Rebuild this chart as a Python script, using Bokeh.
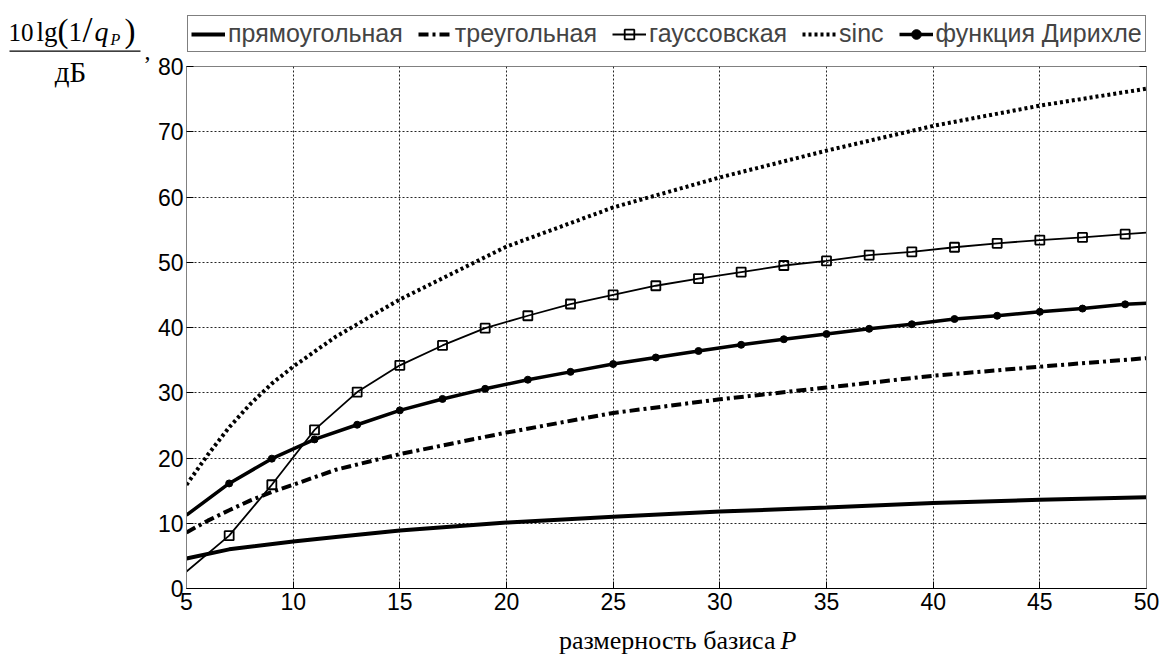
from bokeh.plotting import figure
from bokeh.layouts import row, column
from bokeh.models import (Legend, LegendItem, Label, BoxAnnotation, FixedTicker,
                          LinearAxis, Range1d, CustomJSTickFormatter)
from bokeh.embed import file_html
from bokeh.resources import INLINE

# ---------------- data ----------------
x_ticks = [5, 10, 15, 20, 25, 30, 35, 40, 45, 50]
y_ticks = [0, 10, 20, 30, 40, 50, 60, 70, 80]

P_rect = [5, 7, 10, 12, 15, 20, 25, 30, 35, 40, 45, 50]
rect = [4.6, 6.0, 7.2, 7.9, 8.9, 10.1, 11.0, 11.8, 12.4, 13.1, 13.6, 14.0]

P_tri = [5, 6, 7, 8, 9, 10, 12, 15, 20, 25, 30, 35, 40, 45, 50]
tri = [8.6, 10.4, 12.0, 13.5, 14.8, 15.9, 18.2, 20.6, 23.9, 26.9, 29.0, 30.8, 32.6, 34.0, 35.3]

P_sinc = [5, 6, 7, 8, 9, 10, 12, 15, 20, 25, 30, 35, 40, 45, 50]
sinc = [15.9, 20.5, 24.7, 28.3, 31.4, 34.0, 38.6, 44.3, 52.4, 58.4, 63.0, 67.1, 70.9, 74.0, 76.6]

P_odd = [5, 7, 9, 11, 13, 15, 17, 19, 21, 23, 25, 27, 29, 31, 33, 35, 37, 39, 41, 43, 45, 47, 49, 50]
gauss = [2.6, 8.1, 15.9, 24.3, 30.1, 34.2, 37.25, 39.9, 41.8, 43.6, 45.0, 46.4, 47.5, 48.5,
         49.5, 50.2, 51.1, 51.6, 52.3, 52.9, 53.4, 53.8, 54.3, 54.55]
dirichlet = [11.25, 16.1, 19.9, 22.85, 25.1, 27.3, 29.05, 30.6, 32.0, 33.2, 34.4, 35.4, 36.4,
             37.35, 38.2, 39.0, 39.8, 40.5, 41.3, 41.8, 42.4, 42.9, 43.55, 43.7]

labels = ["прямоугольная", "треугольная", "гауссовская", "sinc", "функция Дирихле"]
x_title = "размерность базиса"
x_title_var = "P"

# ---------------- geometry (page px) ----------------
TOTAL_W, TOTAL_H = 1160, 656
LEFT_W = 150                      # strip holding the y title
TOP_H = 53                        # strip holding the legend
FOOT_Y = 618                      # where the x-title strip starts
FRAME_L, FRAME_R, FRAME_T, FRAME_B = 186, 1146, 66, 588
RIGHT_W = TOTAL_W - LEFT_W
MAIN_H = FOOT_Y - TOP_H
SERIF = "Liberation Serif"
SANS = "Liberation Sans"
BASE_SHIFT = 0.28                 # measured baseline offset of Label text, in em


def blank_fig(w, h, x0, x1, y0, y1):
    f = figure(width=w, height=h, output_backend="svg", toolbar_location=None,
               x_range=Range1d(x0, x1), y_range=Range1d(y1, y0),
               x_axis_location=None, y_axis_location=None,
               min_border=0, min_border_left=0, min_border_right=0,
               min_border_top=0, min_border_bottom=0,
               background_fill_color="white", border_fill_color="white")
    f.grid.visible = False
    f.outline_line_color = None
    return f


def put(f, text, x, y, size, style="normal", align="left", font=SERIF):
    px = float(size.replace("px", ""))
    f.add_layout(Label(x=x, y=y - BASE_SHIFT * px, text=text, text_font=font,
                       text_font_size=size, text_font_style=style, text_align=align,
                       text_baseline="alphabetic", text_color="black"))


# ---------------- main figure ----------------
p = figure(width=RIGHT_W, height=MAIN_H, output_backend="svg", toolbar_location=None,
           x_range=Range1d(5, 50), y_range=Range1d(0, 80),
           min_border_left=FRAME_L - LEFT_W, min_border_right=TOTAL_W - FRAME_R,
           min_border_top=FRAME_T - TOP_H, min_border_bottom=FOOT_Y - FRAME_B,
           background_fill_color="white", border_fill_color="white")
p.outline_line_color = "#808080"
p.outline_line_width = 1

for ax, tk in ((p.xaxis[0], x_ticks), (p.yaxis[0], y_ticks)):
    ax.ticker = FixedTicker(ticks=tk)
    ax.major_tick_in = 7
    ax.major_tick_out = 0
    ax.minor_tick_in = 0
    ax.minor_tick_out = 0
    ax.major_label_text_font = SANS
    ax.major_label_text_font_size = "23px"
    ax.major_label_text_color = "black"
    ax.major_tick_line_color = "black"
p.xaxis.axis_line_color = "black"
p.yaxis.axis_line_color = "#808080"
p.xaxis.major_label_standoff = 4
p.yaxis.major_label_standoff = 3

blank = CustomJSTickFormatter(code="return ''")
ra = LinearAxis(ticker=FixedTicker(ticks=y_ticks), formatter=blank,
                major_tick_in=7, major_tick_out=0, minor_tick_in=0, minor_tick_out=0,
                major_label_standoff=0, axis_line_color="#808080",
                major_tick_line_color="black")
p.add_layout(ra, "right")

for g in (p.xgrid[0], p.ygrid[0]):
    g.grid_line_color = "black"
    g.grid_line_dash = "2 2"
    g.grid_line_width = 1
    g.grid_line_alpha = 0.85
p.xgrid.ticker = FixedTicker(ticks=x_ticks)
p.ygrid.ticker = FixedTicker(ticks=y_ticks)

styles = {
    "rect": dict(line_color="black", line_width=4),
    "tri": dict(line_color="black", line_width=4, line_dash="10 4 3 4"),
    "gauss": dict(line_color="black", line_width=1.8),
    "sinc": dict(line_color="black", line_width=4, line_dash="3 3"),
    "dir": dict(line_color="black", line_width=3.5),
}
m_gauss_style = dict(marker="square", size=9, line_color="black", line_width=1.8, fill_alpha=0)
m_dir_style = dict(marker="circle", size=7, line_color="black", fill_color="black")

p.line(P_rect, rect, **styles["rect"])
p.line(P_tri, tri, **styles["tri"])
p.line(P_odd, gauss, **styles["gauss"])
p.scatter(P_odd[1:-1], gauss[1:-1], **m_gauss_style)
p.line(P_sinc, sinc, **styles["sinc"])
p.line(P_odd, dirichlet, **styles["dir"])
p.scatter(P_odd[1:-1], dirichlet[1:-1], **m_dir_style)

# ---------------- legend strip (frame is aligned with the main frame: x in page px) ----------------
top = blank_fig(RIGHT_W, TOP_H, FRAME_L, FRAME_R, 0, TOP_H)
# the same series, drawn on a range that lies outside this strip: they only feed the legend keys
top.extra_x_ranges = {"off": Range1d(5, 50)}
top.extra_y_ranges = {"off": Range1d(1000, 1080)}
kw = dict(x_range_name="off", y_range_name="off")
k_rect = top.line(P_rect, rect, **styles["rect"], **kw)
k_tri = top.line(P_tri, tri, **styles["tri"], **kw)
k_gauss = top.line(P_odd, gauss, **styles["gauss"], **kw)
k_gauss_m = top.scatter(P_odd[1:-1], gauss[1:-1], **m_gauss_style, **kw)
k_sinc = top.line(P_sinc, sinc, **styles["sinc"], **kw)
k_dir = top.line(P_odd, dirichlet, **styles["dir"], **kw)
k_dir_m = top.scatter(P_odd[1:-1], dirichlet[1:-1], **m_dir_style, **kw)

legend = Legend(items=[
    LegendItem(label=labels[0], renderers=[k_rect]),
    LegendItem(label=labels[1], renderers=[k_tri]),
    LegendItem(label=labels[2], renderers=[k_gauss, k_gauss_m]),
    LegendItem(label=labels[3], renderers=[k_sinc]),
    LegendItem(label=labels[4], renderers=[k_dir, k_dir_m]),
], orientation="horizontal", location=(1, 1),
    label_text_font=SANS, label_text_font_size="25px",
    glyph_width=34, glyph_height=24, label_height=24, label_standoff=3,
    spacing=15, padding=3, margin=0,
    border_line_color="black", border_line_width=1,
    background_fill_color="white", background_fill_alpha=1)
top.add_layout(legend)

# ---------------- y title strip ----------------
yl = blank_fig(LEFT_W, TOTAL_H, 0, LEFT_W, 0, TOTAL_H)
put(yl, "10", 8, 39, "25px")
put(yl, "lg", 36, 39, "27px")
put(yl, "(", 57, 40, "33px")
put(yl, "1", 68, 39, "27px")
put(yl, "/", 82, 40, "36px")
put(yl, "q", 94, 39, "28px", "italic")
put(yl, "P", 110, 43, "16px", "italic")
put(yl, ")", 124, 40, "33px")
yl.add_layout(BoxAnnotation(left=9, right=140, bottom=51.3, top=50.0,
                            fill_color="black", fill_alpha=1, line_alpha=0))
put(yl, "дБ", 70, 80, "29px", align="center")
put(yl, ",", 144, 58, "24px")

# ---------------- x title strip (frame aligned with the main frame) ----------------
xl = blank_fig(RIGHT_W, TOTAL_H - FOOT_Y, FRAME_L, FRAME_R, FOOT_Y, TOTAL_H)
put(xl, x_title, 775, 647, "26px", align="right")
put(xl, x_title_var, 780, 647, "26px", "italic")

layout = row(yl, column(top, p, xl, spacing=0), spacing=0)
open("out.html", "w").write(file_html(layout, INLINE))
